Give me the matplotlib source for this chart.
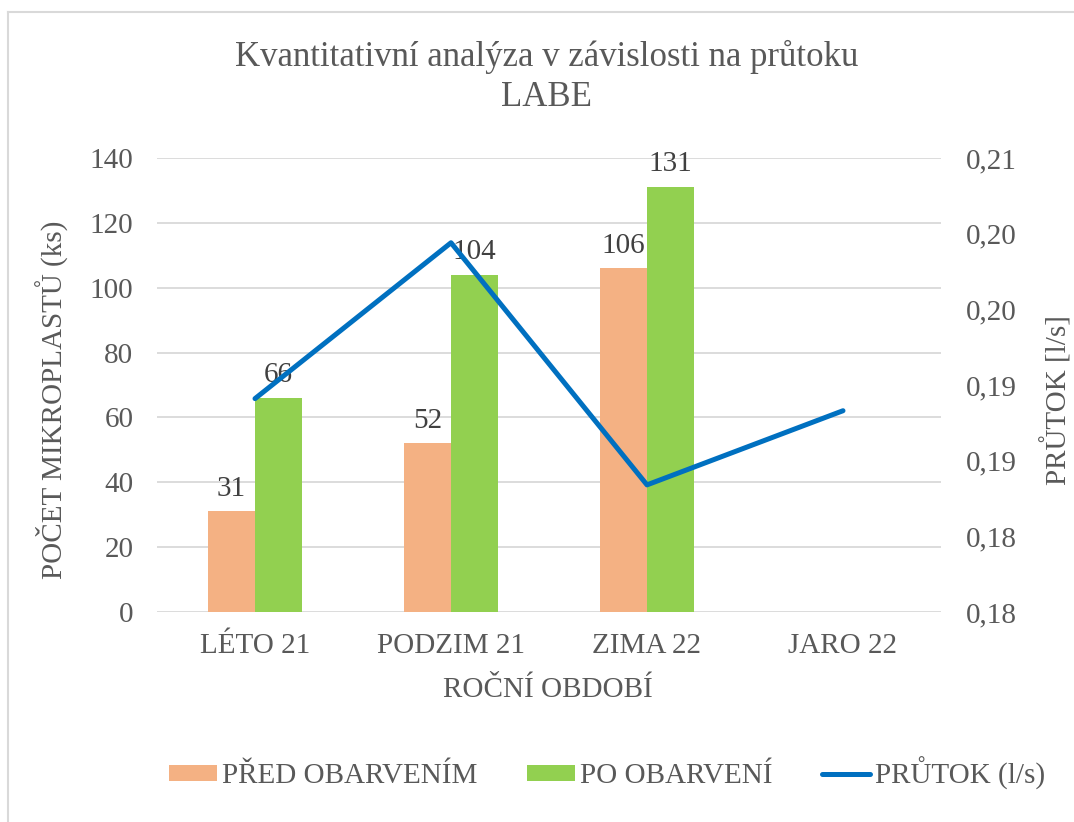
import matplotlib
matplotlib.use("Agg")
import matplotlib.pyplot as plt
from matplotlib.patches import Patch
from matplotlib.lines import Line2D
import numpy as np

categories = ["LÉTO 21", "PODZIM 21", "ZIMA 22", "JARO 22"]
pred_obarvenim = [31, 52, 106, None]
po_obarveni = [66, 104, 131, None]
prutok = [0.1891, 0.1994, 0.1834, 0.1883]
left_ticks = [0, 20, 40, 60, 80, 100, 120, 140]
right_ticks = [0.175, 0.180, 0.185, 0.190, 0.195, 0.200, 0.205]
right_tick_labels = ["0,18", "0,18", "0,19", "0,19", "0,20", "0,20", "0,21"]

title_line1 = "Kvantitativní analýza v závislosti na průtoku"
title_line2 = "LABE"
ylabel_left = "POČET MIKROPLASTŮ (ks)"
ylabel_right = "PRŮTOK [l/s]"
xlabel = "ROČNÍ OBDOBÍ"
legend_labels = ["PŘED OBARVENÍM", "PO OBARVENÍ", "PRŮTOK (l/s)"]

plt.rcParams['font.family'] = ['Liberation Serif', 'DejaVu Serif']

W, H = 1074, 822
fig = plt.figure(figsize=(W / 100, H / 100), dpi=100)

def fx(px):
    return px / W

def fy(py):
    return 1 - py / H

TXT = "#595959"
LBL = "#404040"
ORANGE = "#F4B183"
GREEN = "#92D050"
BLUE = "#0070C0"
GRID = "#D9D9D9"
FS = 21

ax = fig.add_axes([fx(157), fy(612), fx(941) - fx(157), fy(158) - fy(612)])
ax2 = ax.twinx()

x = np.arange(len(categories))
bw = 0.24
po_vals = [np.nan if v is None else v for v in pred_obarvenim]
pg_vals = [np.nan if v is None else v for v in po_obarveni]
ax.bar(x - bw / 2, po_vals, width=bw, color=ORANGE, zorder=2)
ax.bar(x + bw / 2, pg_vals, width=bw, color=GREEN, zorder=2)

for xi, v in zip(x, pred_obarvenim):
    if v is not None:
        ax.annotate(str(v), (xi - bw / 2, v), xytext=(0, 7), textcoords="offset points",
                    ha="center", va="bottom", fontsize=FS, color=LBL, zorder=5)
for xi, v in zip(x, po_obarveni):
    if v is not None:
        ax.annotate(str(v), (xi + bw / 2, v), xytext=(0, 7), textcoords="offset points",
                    ha="center", va="bottom", fontsize=FS, color=LBL, zorder=5)

ax2.plot(x, prutok, color=BLUE, linewidth=3.6, solid_capstyle="round", zorder=4)

ax.set_xlim(-0.5, len(categories) - 0.5)
ax.set_ylim(0, 140)
ax.set_yticks(left_ticks)
ax.set_yticklabels([str(t) for t in left_ticks])
ax.yaxis.grid(True, color=GRID, linewidth=1.3, zorder=0)
ax.set_axisbelow(True)
ax.set_xticks(x)
ax.set_xticklabels(categories)

ax2.set_ylim(0.175, 0.205)
ax2.set_yticks(right_ticks)
ax2.set_yticklabels(right_tick_labels)

for a in (ax, ax2):
    for s in a.spines.values():
        s.set_visible(False)
    a.tick_params(length=0, labelsize=FS, colors=TXT)
ax.tick_params(axis="y", pad=17)
ax.tick_params(axis="x", pad=15)
ax2.tick_params(axis="y", pad=18)

fig.text(fx(547), fy(57), title_line1, ha="center", va="center", fontsize=25, color=TXT)
fig.text(fx(547), fy(97), title_line2, ha="center", va="center", fontsize=25, color=TXT)
fig.text(fx(52), fy(400), ylabel_left, rotation=90, ha="center", va="center", fontsize=FS, color=TXT)
fig.text(fx(1057), fy(400), ylabel_right, rotation=90, ha="center", va="center", fontsize=FS, color=TXT)
fig.text(fx(548), fy(690), xlabel, ha="center", va="center", fontsize=FS, color=TXT)

handles = [Patch(facecolor=ORANGE, edgecolor="none"),
           Patch(facecolor=GREEN, edgecolor="none"),
           Line2D([0], [0], color=BLUE, linewidth=3.6, solid_capstyle="round")]
leg = fig.legend(handles, legend_labels, loc="center", bbox_to_anchor=(fx(607), fy(773)),
                 ncol=3, frameon=False, fontsize=FS, handlelength=1.65, handleheight=0.45,
                 handletextpad=0.17, columnspacing=1.7, labelcolor=TXT)

fig.add_artist(Line2D([fx(8), fx(8)], [0, fy(12)], color="#D9D9D9", linewidth=1.5))
fig.add_artist(Line2D([fx(8), 1], [fy(12), fy(12)], color="#D9D9D9", linewidth=1.5))

fig.savefig("out.png", dpi=100, facecolor="white")
